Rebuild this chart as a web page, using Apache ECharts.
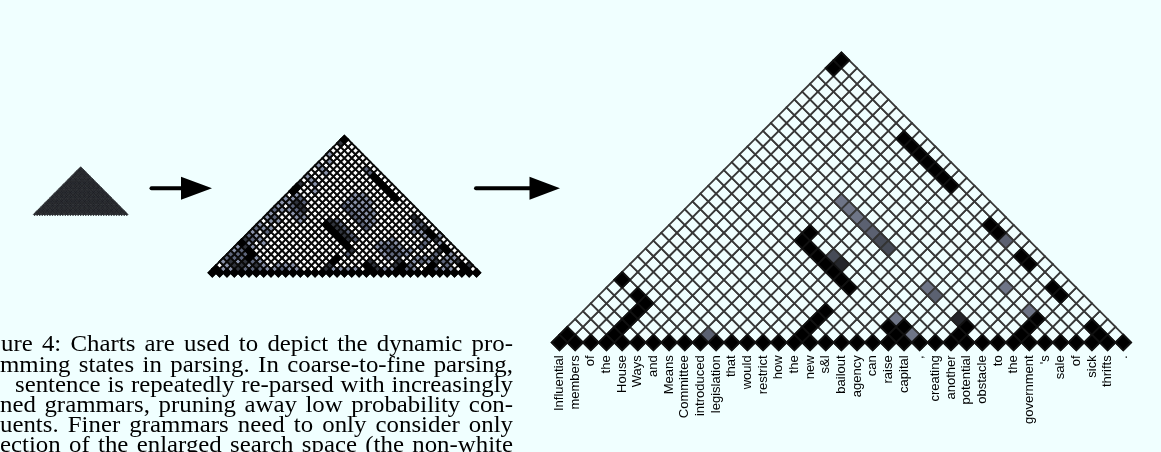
<!DOCTYPE html>
<html><head><meta charset="utf-8">
<script src="https://cdn.jsdelivr.net/npm/echarts@6/dist/echarts.min.js"></script>
<style>html,body{margin:0;padding:0;background:#f0ffff;}#c{width:1161px;height:452px;}</style>
</head><body><div id="c"></div><script>
// ---------- DATA ----------
const words = ["Influential","members","of","the","House","Ways","and","Means","Committee","introduced","legislation","that","would","restrict","how","the","new","s&l","bailout","agency","can","raise","capital",",","creating","another","potential","obstacle","to","the","government","'s","sale","of","sick","thrifts","."];

// cells are [start word index, span length - 1]; unlisted cells are white, bottom row is black
const fineBlack = [[0,1],[0,8],[2,6],[3,1],[3,2],[3,3],[3,4],[3,5],
  [9,13],[9,14],[10,12],[11,11],[12,10],[13,9],[14,8],[15,7],
  [15,1],[15,2],[15,3],[15,4],
  [9,26],[10,25],[11,24],[12,23],[13,22],[14,21],[15,20],
  [0,35],[0,36],[20,15],[21,14],[24,11],[25,10],[28,7],[29,6],
  [29,1],[29,2],[29,3],[20,2],[21,1],[21,2],[25,1],[25,2],[33,2],[34,1]];
const fineDark = [[13,10],[24,3]];
const fineMidDark = [[12,11],[14,13],[15,12]];
const fineMid = [[12,15],[13,14],[22,13],[21,6],[9,1]];
const fineLight = [[9,18],[10,17],[11,16],[20,7],[25,7],[28,4],[20,3],[22,1]];

const midBlack = [[0,36],[0,22],[0,23],[0,1],[0,8],[2,6],[3,5],[3,4],
  [9,26],[10,25],[11,24],[12,23],[13,22],[14,21],[15,20],
  [9,13],[10,12],[11,11],[12,10],[13,9],[14,8],[15,7],
  [15,4],[15,3],[20,2],[21,1],[25,1],[25,2],[29,1],[29,2],[28,7],[29,6],[33,2],[34,1],[24,11],[25,10]];
const midDark = [[0,35],[0,24],[3,3],[3,2],[3,1],[15,2],[15,1],
  [9,14],[10,13],[11,12],[12,11],[13,10],[14,9],[16,6],
  [21,2],[29,3],[24,3],[20,15],[21,14],[3,18],[4,17],[2,19],[1,7],[5,2],[22,1],[20,3],[24,2],[28,6],[34,2],[32,3],[26,9],[23,12],
  [2,2],[1,3],[0,9]];
const midMid = [[9,18],[10,17],[11,16],[12,15],[13,14],[14,13],[15,12],
  [2,18],[3,17],[4,16],[2,20],[3,19],[1,6],[1,5],[2,5],[1,4],[2,4],[0,4],[0,5],[4,1],[5,1],[6,1],[4,3],
  [22,13],[21,6],[20,7],[21,7],[22,6],[22,5],[23,5],[9,1],[26,1],[26,2],[25,7],[25,8],[28,4],[28,5],[30,1],
  [10,14],[11,13],[12,12],[13,11],[14,10],[15,9],[16,5],[8,27],[7,28],[30,3],[31,2],[27,3],
  [0,10],[1,9],[0,12],[2,11],[1,15],[0,17]];
const midLight = [[9,19],[10,18],[11,17],[12,16],[13,15],[14,14],[15,13],
  [9,20],[10,19],[11,18],[12,17],[13,16],[14,15],[15,14],
  [9,21],[10,20],[11,19],[12,18],[13,17],[14,16],
  [10,21],[11,20],[12,19],
  [1,20],[1,19],[2,17],[3,16],[4,15],[5,15],[5,14],[1,21],
  [1,1],[2,1],[1,2],[0,3],[2,3],[0,6],[0,7],[4,2],[5,3],[6,2],[7,1],[4,4],[2,7],
  [8,1],[10,1],[9,2],[10,2],[11,1],[8,2],
  [19,8],[20,8],[21,8],[20,6],[21,5],[22,4],[23,4],[19,7],[20,9],[23,6],[24,5],[24,6],[22,7],
  [16,1],[17,1],[18,1],[19,1],[23,1],[24,1],[27,1],[31,1],[32,1],[26,3],[26,4],[27,4],[30,4],[31,3],
  [22,12],[21,13],[22,11],[23,11],[24,10],[25,9],
  [0,32],[1,30],[0,29],[1,28],[2,27],[0,26],[1,25],[2,24],[3,22],
  [30,5],[31,4],[28,3],[27,8],[26,10],
  [1,10],[0,11],[1,12],[0,13],[2,12],[1,14],[0,15],[2,14],[0,16],[1,17],[0,18],[0,19],[0,20],[2,9],[3,8],[1,8]];

const capLines = [
  ["ure 4: Charts are used to depict the dynamic pro-", 1],
  ["mming states in parsing. In coarse-to-fine parsing,", 0],
  ["sentence is repeatedly re-parsed with increasingly", 15],
  ["ned grammars, pruning away low probability con-", 0],
  ["uents. Finer grammars need to only consider only", 0],
  ["ection of the enlarged search space (the non-white", 0]
];

// ---------- DRAWING ----------
const N = words.length;
function allCells(){ const a=[]; for(let r=0;r<N;r++) for(let i=0;i+r<N;i++) a.push([i,r]); return a; }
const bottomRow = words.map((w,i)=>[i,0]);
function pos(cells){ return cells.map(([i,r])=>[i+r/2, r]); }

const BG = '#f0ffff';
function ser(g, cells, color, size, bc, bw, z){
  return {type:'scatter', xAxisIndex:g, yAxisIndex:g, data:pos(cells), symbol:'diamond',
    symbolSize:[size,size], silent:true, animation:false, z:z,
    itemStyle:{color:color, borderColor:bc, borderWidth:bw, opacity:1}};
}

const grids = [
  {left:32.04, top:166.7, width:97.3, height:49.0},
  {left:204.96, top:135.8, width:278.9, height:140.6},
  {left:543.84, top:52.42, width:595.08, height:297.92}
];
const xAxes = grids.map((g,k)=>({type:'value', gridIndex:k, min:-1, max:37, interval:1, show:k===2,
  axisLine:{show:false}, axisTick:{show:false}, splitLine:{show:false},
  axisLabel:{show:k===2, rotate:90, margin:5, fontSize:13, color:'#000', fontFamily:'"Liberation Sans", Arial, sans-serif',
    formatter:v=>{const w=words[Math.round(v)]; return w===undefined?'':w;}}}));
const yAxes = grids.map((g,k)=>({type:'value', gridIndex:k, min:-1, max:37, show:false, splitLine:{show:false}}));

const S = 2.56, M = 7.34, L = 15.66;
const MB = '#0a0a0a', MW = 1.9;
const series = [
  ser(0, allCells(), '#2a2d33', S, '#17181b', 0.6, 2),
  ser(1, allCells(), '#ffffff', M, MB, MW, 2),
  ser(1, midLight, '#8a93aa', M, MB, MW, 3),
  ser(1, midMid, '#5e667c', M, MB, MW, 3),
  ser(1, midDark, '#30343d', M, MB, MW, 3),
  ser(1, midBlack.concat(bottomRow), '#000', M, '#000', MW, 3),
  ser(2, allCells(), BG, L, '#383838', 1.8, 2),
  ser(2, fineLight, '#6e7587', L, '#383838', 1.8, 3),
  ser(2, fineMid, '#5b6171', L, '#383838', 1.8, 3),
  ser(2, fineMidDark, '#464b57', L, '#333', 1.8, 3),
  ser(2, fineDark, '#25272c', L, '#222', 1.8, 3),
  ser(2, fineBlack.concat(bottomRow), '#000', L, '#111', 1.8, 4)
];

// caption text (visible part), justified word by word
const F = 23, K = 1.08, XEND = 513, Y0 = 345.4, LH = 20.2;
const FONT = F + 'px "Liberation Serif", "Times New Roman", serif';
const mctx = document.createElement('canvas').getContext('2d');
mctx.font = FONT;
const graphics = [];
capLines.forEach(([t,x0],li)=>{
  const ws = t.split(' ');
  const wd = ws.map(w=>mctx.measureText(w).width*K);
  const tot = wd.reduce((a,b)=>a+b,0);
  const gap = (XEND - x0 - tot)/(ws.length-1);
  let x = x0;
  ws.forEach((w,i)=>{
    graphics.push({type:'text', x:x, y:Y0+li*LH, scaleX:K, scaleY:1, silent:true,
      style:{text:w, font:FONT, fill:'#000', textAlign:'left', align:'left', textVerticalAlign:'middle', verticalAlign:'middle'}});
    x += wd[i] + gap;
  });
});
// arrows
graphics.push({type:'line', shape:{x1:151.5,y1:188.3,x2:184,y2:188.3}, style:{stroke:'#000', lineWidth:4, lineCap:'round'}});
graphics.push({type:'polygon', shape:{points:[[181,176.8],[212,188.3],[181,199.8]]}, style:{fill:'#000'}});
graphics.push({type:'line', shape:{x1:476,y1:188.3,x2:532,y2:188.3}, style:{stroke:'#000', lineWidth:4, lineCap:'round'}});
graphics.push({type:'polygon', shape:{points:[[529.5,176.8],[560,188.3],[529.5,199.8]]}, style:{fill:'#000'}});

const chart = echarts.init(document.getElementById('c'), null, {renderer:'canvas'});
chart.setOption({
  backgroundColor: BG,
  animation:false,
  grid: grids,
  xAxis: xAxes,
  yAxis: yAxes,
  series: series,
  graphic: {elements: graphics}
});
</script></body></html>
